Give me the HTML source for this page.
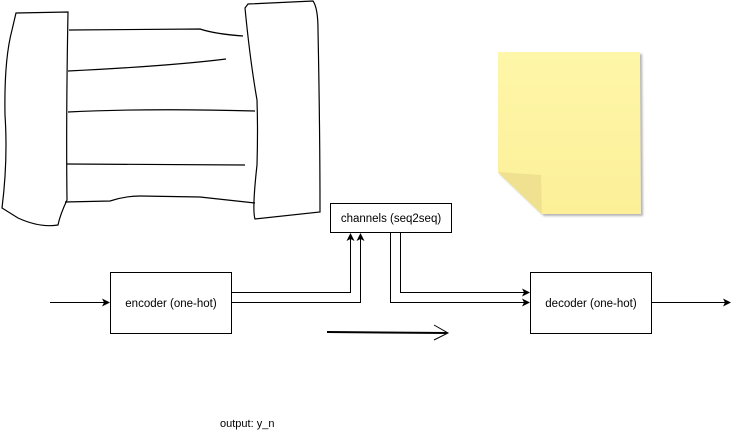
<!DOCTYPE html>
<html><head><style>
body{margin:0;background:#fff;width:740px;height:434px;overflow:hidden;font-family:"Liberation Sans",Helvetica,sans-serif}
</style></head><body>
<svg width="740" height="434" viewBox="0 0 740 434" xmlns="http://www.w3.org/2000/svg">
<defs>
<marker id="a" markerWidth="8" markerHeight="8" refX="7" refY="4" orient="auto" markerUnits="userSpaceOnUse"><path d="M0,0 L8,4 L0,8 L2,4 Z" fill="#000"/></marker>
<linearGradient id="y" x1="0" y1="0" x2="0" y2="1"><stop offset="0" stop-color="#fef6a8"/><stop offset="1" stop-color="#fcef98"/></linearGradient>
</defs>
<g fill="none" stroke="#000" stroke-width="1.2">
<path d="M16,13 L68,12 Q66,120 67,200 Q60,215 58,225 Q40,228 18,218 L2,208 Q8,160 5,115 Q4,60 12,30 Z"/>
<path d="M248,4 L313,1 Q318,8 318,30 Q320,130 320,212 L255,219 Q252,210 257,165 Q258,130 257,100 Q250,60 245,8 Z"/>
<path d="M69,30 L200,29 Q215,34 243,36"/>
<path d="M68,71 Q170,66 226,59"/>
<path d="M68,112 Q150,108 255,111"/>
<path d="M67,164 L245,165"/>
<path d="M65,202 L110,201 Q125,196 140,196 L200,197 L255,203"/>
</g>
<path d="M498,52 L640,52 L641,214 L542,214 L498,172 Z" fill="url(#y)" style="filter:drop-shadow(2px 2px 1px rgba(0,0,0,0.3))"/>
<path d="M498,172 L541,175 L542,214 Z" fill="#f0e190"/>
<rect x="330.5" y="203.5" width="121" height="29" fill="#fff" stroke="#000"/>
<text x="391" y="222" font-size="11.5" text-anchor="middle">channels (seq2seq)</text>
<rect x="110.5" y="272.5" width="121" height="61" fill="#fff" stroke="#000"/>
<text x="171" y="307" font-size="11.5" text-anchor="middle">encoder (one-hot)</text>
<rect x="530.5" y="272.5" width="121" height="61" fill="#fff" stroke="#000"/>
<text x="591" y="307" font-size="11.5" text-anchor="middle">decoder (one-hot)</text>
<g fill="none" stroke="#000" stroke-width="1" marker-end="url(#a)">
<path d="M50,302.5 L109,302.5"/>
<path d="M652,302.5 L730,302.5"/>
<path d="M231,292.5 L350.5,292.5 L350.5,234"/>
<path d="M231,302.5 L360.5,302.5 L360.5,234"/>
<path d="M400.5,233 L400.5,292.5 L529,292.5"/>
<path d="M390.5,233 L390.5,302.5 L529,302.5"/>
</g>
<path d="M327,332 L447,333" stroke="#000" stroke-width="2" fill="none"/>
<path d="M434,325 L448,333 L434,340" stroke="#000" stroke-width="1" fill="none"/>
<text x="220" y="427" font-size="11">output: y_n</text>
</svg>
</body></html>
